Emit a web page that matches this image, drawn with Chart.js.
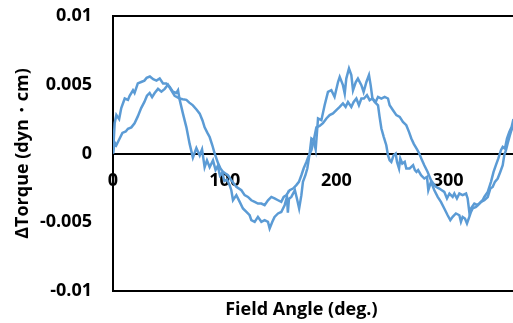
<!DOCTYPE html>
<html>
<head>
<meta charset="utf-8">
<script src="https://cdn.jsdelivr.net/npm/chart.js@4"></script>
<style>
html,body{margin:0;padding:0;background:#fff;}
canvas{display:block;}
</style>
</head>
<body>
<canvas id="c" width="513" height="323"></canvas>
<script>
// Field angle (deg.) and ΔTorque (dyn·cm) for the two sweeps
const angleA = [0,1.5,3.0,5.5,7.4,10.5,13.4,14.9,17.9,19.3,22.2,25.2,28.1,30.1,33.0,36.0,38.9,41.8,44.8,47.7,50.7,53.6,56.7,58.2,59.7,62.6,65.7,68.6,71.5,74.6,77.6,79.7,82.0,84.1,86.5,89.5,91.8,93.8,95.7,97.7,99.7,102.1,104.4,105.9,107.4,110.4,113.4,116.3,119.4,122.3,123.8,126.8,129.7,132.8,135.7,138.7,140.2,142.6,144.6,147.7,150.6,153.6,155.7,156.5,157.5,159.6,162.8,164.6,166.6,168.6,170.0,172.2,173.9,176.0,177.6,179.6,181.4,183.5,186.5,189.4,192.4,195.4,198.3,201.4,202.9,205.8,207.4,208.8,211.2,213.3,214.8,217.3,219.2,222.3,224.3,226.8,229.1,230.6,232.2,234.2,237.2,238.6,240.2,242.3,244.6,246.1,247.6,249.1,251.2,253.0,254.2,256.0,257.1,258.9,261.1,262.5,265.5,268.6,270.2,271.6,273.1,275.7,278.6,281.0,282.2,284.6,287.6,290.6,293.5,296.5,299.5,301.9,304.0,306.9,310.0,311.4,312.9,315.0,316.8,318.9,320.4,321.9,324.9,327.9,330.8,332.3,335.4,338.3,340.6,342.7,344.9,347.2,348.8,350.8,352.6,354.7,356.8,358.4];
const torqueA = [0,0.0022,0.0028,0.0025,0.0033,0.0040,0.0039,0.0042,0.0046,0.0044,0.0051,0.0052,0.0053,0.0055,0.0056,0.0054,0.0053,0.00545,0.0051,0.0051,0.00485,0.0045,0.0044,0.0046,0.0039,0.0029,0.0019,0.0007,-0.0003,0.0004,-0.00015,0.0003,-0.0010,-0.0005,-0.0010,-0.0005,-0.0012,-0.0009,-0.0016,-0.0014,-0.0020,-0.0019,-0.0023,-0.00267,-0.0034,-0.00303,-0.00352,-0.0040,-0.00425,-0.00449,-0.00485,-0.00497,-0.00461,-0.00497,-0.00485,-0.00497,-0.00545,-0.00497,-0.00461,-0.00436,-0.00425,-0.00376,-0.00316,-0.0043,-0.0033,-0.00316,-0.00267,-0.00327,-0.0040,-0.00303,-0.00206,-0.00158,-0.00109,0,0.00109,0.00097,0.0003,0.00255,0.00242,0.00351,0.00448,0.0046,0.00412,0.0052,0.00557,0.00497,0.00436,0.00545,0.00618,0.0057,0.0046,0.0052,0.00545,0.00497,0.00448,0.0052,0.0057,0.00497,0.0040,0.00375,0.00351,0.00266,0.00182,0.00121,0.0006,-0.00012,-0.00049,-0.00061,-0.00012,0,-0.00061,-0.00109,-0.00036,-0.00073,-0.00061,-0.00109,-0.00109,-0.00085,-0.00121,-0.00134,-0.00121,-0.00158,-0.00182,-0.0017,-0.00267,-0.00206,-0.00267,-0.00315,-0.00352,-0.0040,-0.00449,-0.00485,-0.00461,-0.00436,-0.00449,-0.00497,-0.00461,-0.00473,-0.00509,-0.00461,-0.00425,-0.0040,-0.00388,-0.00364,-0.0034,-0.00316,-0.00279,-0.00206,-0.00134,-0.00085,-0.00036,0.00024,0.00048,0.00036,0.00109,0.00157,0.00194,0.0025];
const angleB = [0,1.5,3.0,5.4,8.4,11.4,13.4,16.4,19.3,22.2,25.2,28.1,30.4,32.8,35.0,37.3,40.3,43.3,46.3,49.2,52.2,55.2,59.7,62.4,65.7,68.3,71.5,74.7,77.6,80.1,82.0,84.5,86.5,88.9,91.0,94.0,96.2,98.5,100.6,102.9,105.9,110.4,114.9,117.8,120.8,123.8,126.8,129.7,132.8,135.7,138.7,141.7,144.6,147.7,150.6,152.8,155.1,158.1,161.1,164.1,166.4,168.6,170.6,173.1,174.5,177.6,179.5,182.0,184.9,187.9,191.0,193.9,196.9,199.9,202.9,205.8,208.2,210.3,213.3,215.4,217.8,220.1,222.3,224.6,227.3,229.7,232.2,235.1,237.2,240.2,243.1,246.1,247.6,250.6,253.6,256.6,259.5,262.5,264.9,267.0,269.2,272.1,274.1,276.6,278.6,281.6,284.6,286.8,288.8,292.0,296.5,298.9,301.1,304.0,305.5,307.8,310.0,312.9,316.0,317.4,318.9,320.4,323.4,326.3,329.4,332.3,335.4,337.7,339.8,341.8,344.3,346.6,348.8,350.2,351.7,353.2,354.8,356.1,358.4];
const torqueB = [0,0.0008,0.0006,0.0010,0.0015,0.0016,0.0018,0.0019,0.0022,0.0027,0.0033,0.00375,0.0042,0.0044,0.0041,0.0044,0.0047,0.0045,0.0047,0.0050,0.0046,0.0042,0.0040,0.00395,0.0039,0.0037,0.0035,0.0032,0.0029,0.0024,0.0019,0.0015,0.0012,0.0006,0,-0.0007,-0.0011,-0.00134,-0.00145,-0.00158,-0.00194,-0.00243,-0.00267,-0.00303,-0.00316,-0.0034,-0.00352,-0.00364,-0.00364,-0.00376,-0.0034,-0.00316,-0.00327,-0.0034,-0.00352,-0.00316,-0.00303,-0.00267,-0.00255,-0.0023,-0.00206,-0.00158,-0.00109,-0.00061,-0.0003,0.00024,0.0009,0.0019,0.0020,0.0022,0.00255,0.00279,0.00291,0.00315,0.00339,0.00364,0.00339,0.00375,0.00339,0.00375,0.0040,0.00351,0.0040,0.0040,0.00424,0.00388,0.0040,0.00375,0.00412,0.0040,0.00412,0.0040,0.00351,0.00315,0.00279,0.00266,0.0023,0.00206,0.00157,0.00109,0.0007,0.0003,0,-0.0005,-0.00085,-0.00134,-0.00194,-0.0022,-0.0024,-0.00255,-0.00279,-0.00327,-0.00291,-0.00315,-0.00291,-0.00327,-0.00291,-0.00303,-0.00291,-0.00327,-0.00425,-0.0040,-0.00364,-0.00376,-0.00352,-0.0034,-0.00316,-0.00255,-0.00243,-0.00206,-0.00182,-0.00134,-0.00085,-0.00012,0.00024,0.00073,0.00121,0.00157,0.0021];

const xTickValues = [0, 100, 200, 300];
const xTickLabels = ['0', '100', '200', '300'];
const yTickValues = [-0.01, -0.005, 0, 0.005, 0.01];
const yTickLabels = ['-0.01', '-0.005', '0', '0.005', '0.01'];
const xTitle = 'Field Angle (deg.)';
const yTitle = 'ΔTorque (dyn・cm)';

const lineColor = '#5B9BD5';
const FONT = {family: '"Open Sans", sans-serif', size: 18, weight: 'bold'};

function pts(xs, ys) { return xs.map((x, i) => ({x: x, y: ys[i]})); }

const xTitlePlugin = {
  id: 'xTitlePlugin',
  afterDraw(chart) {
    const {ctx, chartArea} = chart;
    ctx.save();
    ctx.font = 'bold 18px "Open Sans", sans-serif';
    ctx.fillStyle = '#000';
    ctx.textAlign = 'center';
    ctx.textBaseline = 'alphabetic';
    ctx.fillText(xTitle, chartArea.left + (chartArea.right - chartArea.left) * 0.471, chartArea.bottom + 24);
    ctx.restore();
  }
};

Chart.defaults.color = '#000';

const noPad = (s) => { s.paddingTop = 0; s.paddingBottom = 0; s.paddingLeft = 0; s.paddingRight = 0; };

new Chart(document.getElementById('c'), {
  type: 'scatter',
  data: {
    datasets: [
      {data: pts(angleA, torqueA), showLine: true, borderColor: lineColor, backgroundColor: lineColor, borderWidth: 2.5, pointRadius: 0, tension: 0, xAxisID: 'x', yAxisID: 'y'},
      {data: pts(angleB, torqueB), showLine: true, borderColor: lineColor, backgroundColor: lineColor, borderWidth: 2.5, pointRadius: 0, tension: 0, xAxisID: 'x', yAxisID: 'y'}
    ]
  },
  options: {
    responsive: false,
    devicePixelRatio: 1,
    animation: false,
    layout: {padding: 0},
    plugins: {legend: {display: false}, tooltip: {enabled: false}},
    scales: {
      x: {
        type: 'linear', min: 0, max: 358,
        position: {y: 0},
        grid: {display: false, drawTicks: false},
        border: {display: true, color: '#000', width: 2},
        afterBuildTicks: (s) => { s.ticks = xTickValues.map(v => ({value: v})); },
        ticks: {padding: 17, font: FONT, color: '#000', maxRotation: 0, autoSkip: false,
          callback: (v) => xTickLabels[xTickValues.indexOf(v)]},
        afterFit: noPad
      },
      x2: {
        type: 'linear', position: 'bottom',
        grid: {display: false, drawTicks: false},
        border: {display: true, color: '#000', width: 2},
        ticks: {display: false},
        afterFit: (s) => { s.height = 32; noPad(s); }
      },
      x3: {
        type: 'linear', position: 'top',
        grid: {display: false, drawTicks: false},
        border: {display: true, color: '#000', width: 2},
        ticks: {display: false},
        afterFit: (s) => { s.height = 16; noPad(s); }
      },
      y: {
        type: 'linear', min: -0.01, max: 0.01, position: 'left',
        grid: {display: false, drawTicks: false},
        border: {display: true, color: '#000', width: 2},
        afterBuildTicks: (s) => { s.ticks = yTickValues.map(v => ({value: v})); },
        ticks: {padding: 21, font: FONT, color: '#000',
          callback: (v) => yTickLabels[yTickValues.indexOf(v)]},
        title: {display: true, text: yTitle, font: FONT, color: '#000', padding: {top: 12, bottom: 0}},
        afterFit: (s) => { s.width = 113; noPad(s); }
      }
    }
  },
  plugins: [xTitlePlugin]
});
</script>
</body>
</html>
